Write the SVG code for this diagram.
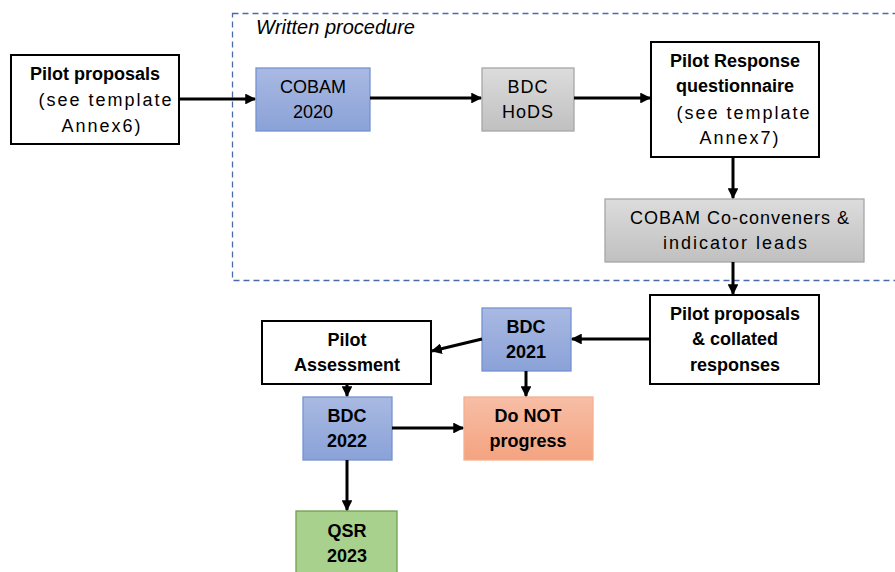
<svg xmlns="http://www.w3.org/2000/svg" width="895" height="572" viewBox="0 0 895 572">
<defs>
<linearGradient id="gBlue" x1="0" y1="0" x2="0" y2="1"><stop offset="0" stop-color="#a9b9e2"/><stop offset="1" stop-color="#8aa2d8"/></linearGradient>
<linearGradient id="gGray" x1="0" y1="0" x2="0" y2="1"><stop offset="0" stop-color="#dcdcdc"/><stop offset="1" stop-color="#c0c0c0"/></linearGradient>
<linearGradient id="gOrange" x1="0" y1="0" x2="0" y2="1"><stop offset="0" stop-color="#f7bea6"/><stop offset="1" stop-color="#f4a380"/></linearGradient>
<marker id="ah" viewBox="0 0 10 10" refX="9" refY="5" markerWidth="3.6" markerHeight="3.6" orient="auto" markerUnits="strokeWidth"><path d="M0,0 L10,5 L0,10 z" fill="#000"/></marker>
</defs>
<style>
text{font-family:"Liberation Sans",Arial,sans-serif;font-size:18px;fill:#000;text-anchor:middle}
.b{font-weight:bold}
.sp{letter-spacing:2px}
.sp1{letter-spacing:1px}
.white{fill:#fff;stroke:#000;stroke-width:2}
.blue{fill:url(#gBlue);stroke:#7393d3;stroke-width:1.3}
.gray{fill:url(#gGray);stroke:#a6a6a6;stroke-width:1.3}
.orange{fill:url(#gOrange);stroke:#f4b08e;stroke-width:1.3}
.green{fill:#a9d18e;stroke:#6f9f4f;stroke-width:1.3}
.c line{stroke:#000;stroke-width:3;marker-end:url(#ah)}
</style>
<rect width="895" height="572" fill="#fff"/>
<g id="written-procedure">
<rect x="232.5" y="13.5" width="670" height="267" fill="none" stroke="#4a6aaa" stroke-width="1.3" stroke-dasharray="6,4"/>
<text x="256" y="34" style="font-style:italic;text-anchor:start;font-size:20px">Written procedure</text>
</g>
<g id="pilot-proposals">
<rect class="white" x="11" y="55" width="168" height="89"/>
<text class="b" x="95" y="80">Pilot proposals</text>
<text class="sp" x="106" y="106">(see template</text>
<text class="sp" x="102" y="132">Annex6)</text>
</g>
<g id="cobam-2020">
<rect class="blue" x="256" y="68" width="114" height="63"/>
<text x="313" y="93">COBAM</text>
<text x="313" y="118">2020</text>
</g>
<g id="bdc-hods">
<rect class="gray" x="482" y="68" width="92" height="63"/>
<text class="sp1" x="528" y="93">BDC</text>
<text class="sp1" x="528" y="118">HoDS</text>
</g>
<g id="pilot-response">
<rect class="white" x="651" y="42" width="168" height="115"/>
<text class="b" x="735" y="67">Pilot Response</text>
<text class="b" x="735" y="92">questionnaire</text>
<text class="sp" x="744" y="119">(see template</text>
<text class="sp" x="740" y="144">Annex7)</text>
</g>
<g id="cobam-coconveners">
<rect class="gray" x="605" y="199" width="259" height="63"/>
<text class="sp1" x="740" y="224">COBAM Co-conveners &amp;</text>
<text class="sp" x="736" y="249">indicator leads</text>
</g>
<g id="pilot-collated">
<rect class="white" x="650" y="295" width="169" height="89"/>
<text class="b" x="735" y="320">Pilot proposals</text>
<text class="b" x="735" y="345">&amp; collated</text>
<text class="b" x="735" y="371">responses</text>
</g>
<g id="bdc-2021">
<rect class="blue" x="482" y="308" width="89" height="63"/>
<text class="b" x="526" y="333">BDC</text>
<text class="b" x="526" y="358">2021</text>
</g>
<g id="pilot-assessment">
<rect class="white" x="262" y="321" width="169" height="63"/>
<text class="b" x="347" y="346">Pilot</text>
<text class="b" x="347" y="371">Assessment</text>
</g>
<g id="bdc-2022">
<rect class="blue" x="303" y="397" width="89" height="63"/>
<text class="b" x="347" y="422">BDC</text>
<text class="b" x="347" y="447">2022</text>
</g>
<g id="do-not-progress">
<rect class="orange" x="464" y="397" width="129" height="63"/>
<text class="b" x="528" y="422">Do NOT</text>
<text class="b" x="528" y="447">progress</text>
</g>
<g id="qsr-2023">
<rect class="green" x="296" y="511" width="101" height="70"/>
<text class="b" x="347" y="537">QSR</text>
<text class="b" x="347" y="562">2023</text>
</g>
<g id="connectors" class="c">
<line x1="179" y1="99" x2="255" y2="99"/>
<line x1="370" y1="98" x2="481" y2="98"/>
<line x1="574" y1="98" x2="650" y2="98"/>
<line x1="733" y1="157" x2="733" y2="198"/>
<line x1="733" y1="262" x2="733" y2="294"/>
<line x1="650" y1="339" x2="572" y2="339"/>
<line x1="482" y1="339" x2="432" y2="351"/>
<line x1="526" y1="371" x2="526" y2="396"/>
<line x1="347" y1="384" x2="347" y2="396"/>
<line x1="392" y1="428" x2="463" y2="428"/>
<line x1="347" y1="460" x2="347" y2="510"/>
</g>
</svg>
